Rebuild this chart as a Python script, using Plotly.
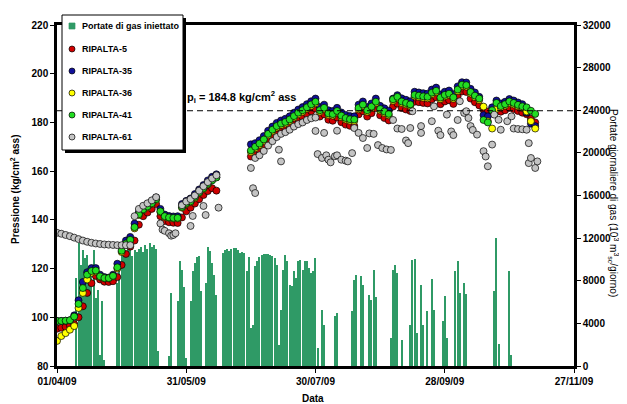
import pandas as pd
import plotly.graph_objects as go

inizio = pd.Timestamp('2009-04-01')

# --- pressioni (kg/cm2 ass), giorni dal 01/04/09 ---
giorni_1 = [0, 2, 4, 6, 8, 10, 12, 14, 16, 18, 20, 22, 24, 26, 28, 30, 32, 34, 36, 38,
            40, 42, 44, 46, 48, 50, 52, 54, 56, 58, 60, 62, 64, 66, 68, 70, 72, 74]
giorni_2 = [90, 92, 94, 96, 98, 100, 102, 104, 106, 108, 110, 112, 114, 116, 118, 120,
            122, 124, 126, 128, 130, 132, 134, 136, 138, 140, 142, 144, 146, 148, 150,
            152, 154, 156, 158, 160, 162, 164, 166, 168, 170, 172, 174, 176, 178, 180,
            182, 184, 186, 188, 190, 192, 194, 196, 198, 200, 202, 204, 206, 208, 210,
            212, 214, 216, 218, 220, 222]

r5_1 = [95.3, 95.7, 96.1, 96.6, 97.2, 100.0, 104.5, 110.0, 114.0, 117.0, 115.5, 114.6,
        114.5, 114.8, 116.5, 121.5, 126.0, 129.0, 131.5, 138.0, 141.5, 143.0, 144.5,
        146.5, 141.5, 139.5, 139.0, 138.8, 138.7, 141.0, 143.5, 145.0, 146.7, 148.5,
        150.2, 151.8, 153.0, 152.0]
r5_2 = [166.0, 167.3, 168.5, 170.2, 172.4, 174.2, 175.7, 176.8, 177.5, 178.5, 179.8,
        181.2, 182.2, 183.4, 184.6, 185.7, 182.4, 183.3, 181.1, 180.7, 182.0, 180.1,
        179.1, 178.6, 178.5, 183.3, 184.6, 182.4, 183.8, 185.8, 182.9, 181.8, 180.8,
        186.5, 187.7, 185.9, 185.3, 184.7, 188.5, 188.3, 188.0, 187.8, 189.5, 190.3,
        187.5, 188.6, 189.1, 187.6, 190.8, 192.7, 192.5, 189.8, 188.3, 187.0, 185.3,
        184.5, 184.2, 185.5, 184.4, 185.0, 186.0, 185.5, 184.7, 184.0, 183.4, 181.5, 180.0]

r35_1 = [98.5, 98.5, 98.6, 98.8, 100.8, 107.0, 114.5, 118.5, 120.2, 120.2, 117.5, 116.5,
         116.3, 117.5, 122.0, 129.0, 131.5, 133.0, 138.5, 143.2, 145.0, 146.3, 147.6,
         149.2, 144.5, 142.2, 141.6, 141.4, 141.5, 146.5, 147.8, 148.8, 150.6, 152.5,
         154.3, 156.2, 157.7, 158.7]
r35_2 = [171.0, 171.5, 172.7, 174.4, 176.6, 178.3, 179.8, 180.8, 181.5, 182.5, 184.0,
         185.3, 186.3, 187.5, 188.7, 189.8, 186.3, 187.3, 185.0, 184.7, 186.0, 184.1,
         183.1, 182.6, 182.5, 187.3, 188.6, 186.3, 187.8, 189.8, 186.8, 185.8, 184.8,
         189.8, 191.2, 189.9, 189.3, 188.7, 192.6, 192.3, 192.0, 191.8, 193.5, 194.3,
         191.5, 192.6, 193.1, 191.6, 194.8, 196.5, 196.4, 193.8, 192.3, 190.5, 183.0,
         182.5, 186.2, 189.0, 187.8, 188.5, 189.6, 189.0, 188.2, 187.5, 184.0, 179.5, 178.5]

r36_1 = [90.3, 92.3, 93.5, 94.9, 96.4, 103.8, 110.0, 115.5, 118.3, 118.8, 116.5, 116.0,
         116.0, 116.8, 120.0, 126.8, 130.0, 131.5, 136.5, 142.0, 144.0, 145.2, 146.5,
         148.2, 143.2, 141.2, 140.8, 140.6, 140.6, 145.0, 146.5, 147.3, 149.0, 151.0,
         152.7, 154.5, 156.5, 157.5]
r36_2 = [167.9, 169.4, 170.7, 172.4, 174.7, 176.4, 177.9, 178.9, 179.6, 180.6, 182.0,
         183.4, 184.4, 185.6, 186.8, 187.9, 184.4, 185.4, 183.1, 182.8, 184.1, 182.2,
         181.2, 180.7, 180.6, 185.4, 186.7, 184.4, 185.9, 187.9, 184.9, 183.9, 182.9,
         188.9, 189.9, 188.0, 187.4, 186.8, 190.7, 190.4, 190.1, 189.9, 191.6, 192.4,
         189.6, 190.7, 191.2, 189.7, 192.9, 194.9, 194.7, 191.9, 190.4, 189.2, 186.5,
         180.5, 177.5, 185.5, 186.1, 186.9, 188.0, 187.4, 186.6, 186.0, 184.5, 180.5, 177.5]

r41_1 = [98.5, 98.5, 98.6, 98.8, 100.3, 105.5, 112.0, 117.5, 119.0, 119.2, 116.8, 116.1,
         116.1, 117.0, 120.5, 127.3, 130.3, 131.8, 137.0, 142.3, 144.3, 145.5, 146.8,
         148.5, 143.5, 141.5, 141.0, 140.8, 140.8, 145.3, 146.8, 147.6, 149.4, 151.3,
         153.0, 154.8, 156.2, 157.4]
r41_2 = [168.5, 170.0, 171.3, 173.0, 175.3, 177.0, 178.5, 179.5, 180.2, 181.2, 182.6,
         184.0, 185.0, 186.2, 187.4, 188.5, 185.0, 186.0, 183.7, 183.4, 184.7, 182.8,
         181.8, 181.3, 181.2, 186.0, 187.3, 185.0, 186.5, 188.5, 185.5, 184.5, 183.5,
         189.5, 190.5, 188.6, 188.0, 187.4, 191.3, 191.0, 190.7, 190.5, 192.2, 193.0,
         190.2, 191.3, 191.8, 190.3, 193.5, 195.5, 195.3, 192.5, 191.0, 189.8, 181.0,
         180.0, 185.0, 188.0, 186.7, 187.5, 188.6, 188.0, 187.2, 186.6, 186.2, 184.8, 183.5]

giorni_61 = [0, 2, 4, 6, 8, 10, 12, 14, 16, 18, 20, 22, 24, 26, 28, 30, 32, 34,
             36, 38, 40, 42, 44, 46, 48, 49, 50, 52, 53, 54, 55, 58, 60, 62, 62, 63,
             64, 66, 68, 68, 69, 70, 72, 74, 75,
             90, 91, 92, 92, 94, 96, 98, 100, 102, 103, 104, 104, 106, 108, 110, 112,
             114, 116, 118, 120, 120, 121, 123, 124, 125, 126, 127, 129, 130, 130, 132,
             134, 135, 137, 138, 140, 142, 144, 145, 147, 149, 151, 153, 155, 156, 158,
             160, 162, 163, 164, 165, 169, 169, 174, 175, 177, 178, 181, 183, 184, 186,
             187, 189, 190, 191, 192, 193, 195, 198, 199, 200, 202, 203, 205, 206, 209,
             211, 212, 214, 216, 218, 219, 219, 220, 222, 223]
r61 = [134.7, 134.3, 133.8, 133.3, 132.7, 132.1, 131.5, 131.0, 130.6, 130.3, 130.1, 129.9,
       129.8, 129.7, 129.6, 129.6, 129.6, 129.6,
       141.5, 144.5, 145.8, 146.8, 148.0, 149.3, 138.5, 136.0, 135.5, 134.5, 133.5, 133.8,
       134.5, 146.0, 147.5, 148.5, 137.5, 141.6, 150.0, 152.0, 153.8, 145.7, 142.0, 155.5,
       157.0, 158.3, 145.0,
       161.3, 153.0, 151.0, 165.4, 166.5, 168.3, 170.5, 172.3, 174.0, 168.8, 175.3, 164.0,
       176.0, 177.0, 178.3, 179.3, 180.0, 181.0, 181.7, 182.0, 176.5, 167.0, 165.4, 175.7,
       166.5, 164.7, 163.6, 166.1, 166.5, 176.6, 164.7, 164.3, 164.0, 167.4, 177.7, 175.7,
       173.6, 169.5, 175.5, 175.3, 170.7, 169.5, 168.9, 168.7, 181.0, 177.5, 177.3, 172.6,
       171.5, 177.7, 184.6, 178.5, 175.7, 180.5, 186.6, 176.6, 174.8, 183.2, 176.3, 174.8,
       181.0, 188.7, 183.9, 184.6, 181.8, 178.5, 176.9, 175.0, 168.2, 166.0, 162.0, 170.9,
       183.2, 181.1, 177.0, 180.5, 182.5, 177.5, 177.3, 177.2, 177.0, 171.5, 163.3, 165.4,
       161.3, 164.0]

# --- portate di gas iniettato (10^3 m3sc/giorno) ---
giorni_q = [9, 10, 11, 12, 13, 14, 15, 16, 17, 18, 19, 20, 21, 22,
            28, 29, 30, 31, 32, 33, 34, 35, 36, 37, 38, 39, 40, 41, 42, 43, 44, 45, 46, 47,
            52, 53, 56, 57, 58, 59, 60, 62, 63, 64, 65, 66, 67, 69, 70, 71, 72, 73, 74,
            77, 78, 79, 80, 81, 82, 83, 84, 85, 86, 87, 88, 89, 90,
            91, 92, 93, 94, 95, 96, 97, 98, 99, 100, 101, 102, 103, 104, 105, 106, 107,
            108, 109, 110, 111, 112, 113, 114, 115, 116, 117, 118, 119, 120, 121,
            123, 124, 129, 130, 137, 138, 139, 141, 142, 145, 146, 147, 148,
            155, 156, 157, 158, 160, 164, 165, 166, 167, 169, 170, 172, 174, 175,
            179, 180, 181, 185, 186, 187, 189, 190, 203, 204, 205, 210, 211]
portate = [8260, 11500, 9500, 10900, 10100, 10450, 9200, 8730, 10900, 6380, 7160, 1060, 6100, 600,
           7800, 9850, 11400, 10700, 10500, 11100, 11000, 10300, 10900, 10700, 11000, 11200,
           10700, 11400, 11000, 11500, 11200, 11400, 11000, 1400,
           940, 6850, 6100, 9850, 9040, 7400, 750, 6100, 8900, 9660, 10200, 10300, 7000,
           7790, 11160, 10800, 9660, 8570, 6690,
           10600, 10900, 11000, 10800, 11000, 11100, 11050, 10900, 10600, 10700, 10600, 8900,
           10200, 3570,
           3880, 9380, 9820, 10200, 10400, 10500, 10500, 10500, 10400, 10300, 10100, 9500,
           2000, 5280, 9040, 10450, 9820, 7630, 7500, 8880, 8260, 9820, 9980, 9040, 9820,
           9820, 9200, 8730, 8880, 10130, 1690,
           5280, 3880, 4660, 4970, 5130, 8100, 8570, 8410, 7630, 6630, 6220, 9040, 6440,
           2630, 9040, 9450, 8730, 2470, 3880, 9980, 10070, 3100, 7570, 3880, 5130, 8190, 5280,
           4250, 6540, 2630, 8940, 9820, 6850, 7790, 6760, 7070, 12010, 2060, 8880, 1060]

p_iniziale = 184.8
date_tick = ['2009-04-01', '2009-05-31', '2009-07-30', '2009-09-28', '2009-11-27']
etich_tick = ['01/04/09', '31/05/09', '30/07/09', '28/09/09', '27/11/09']


def to_date(giorni):
    return inizio + pd.to_timedelta(giorni, unit='D')


# area del grafico in pixel: x 49..566, y 17..358
def px_x(px):
    return (px - 49) / 517


def px_y(py):
    return (358 - py) / 341


FONT = 'Liberation Sans'
serie = [
    ('RIPALTA-5', r5_1 + r5_2, '#d00000'),
    ('RIPALTA-35', r35_1 + r35_2, '#10109a'),
    ('RIPALTA-36', r36_1 + r36_2, '#ffff00'),
    ('RIPALTA-41', r41_1 + r41_2, '#22dd22'),
]

fig = go.Figure()
fig.add_trace(go.Bar(
    x=to_date(giorni_q), y=portate, yaxis='y',
    width=0.5 * 86400000, marker=dict(color='#2f9a66', line=dict(width=0)),
    name='Portate di gas iniettato', showlegend=False))

for nome, valori, col in serie:
    fig.add_trace(go.Scatter(
        x=to_date(giorni_1 + giorni_2), y=valori, yaxis='y2', mode='markers',
        marker=dict(size=7, color=col, line=dict(color='black', width=0.7)),
        name=nome, showlegend=False))

fig.add_trace(go.Scatter(
    x=to_date(giorni_61), y=r61, yaxis='y2', mode='markers',
    marker=dict(size=7, color='#c4c4c4', line=dict(color='black', width=0.7)),
    name='RIPALTA-61', showlegend=False))

asse = dict(showline=True, linecolor='black', linewidth=2.5, ticks='outside',
            ticklen=4, tickwidth=1.2, tickcolor='black', showgrid=False, zeroline=False,
            tickfont=dict(family=FONT, size=10, color='black', weight='bold'))

fig.update_layout(
    width=627, height=404,
    margin=dict(l=49, r=61, t=17, b=46),
    paper_bgcolor='white', plot_bgcolor='white',
    showlegend=False,
    bargap=0,
    xaxis=dict(asse, type='date', range=['2009-04-01', '2009-11-27'], mirror=True,
               tickvals=date_tick, ticktext=etich_tick),
    yaxis=dict(asse, side='right', range=[0, 32000], tickformat='d',
               tickvals=list(range(0, 32001, 4000))),
    yaxis2=dict(asse, side='left', overlaying='y', range=[80, 220],
                tickvals=list(range(80, 221, 20))),
)

# linea della pressione iniziale
fig.add_shape(type='line', xref='paper', x0=0, x1=1, yref='y2', y0=p_iniziale, y1=p_iniziale,
              line=dict(color='black', width=1, dash='6px,4px'))

# legenda disegnata a mano (box con ombra)
fig.add_shape(type='rect', xref='paper', yref='paper', layer='above',
              x0=px_x(57), x1=px_x(178), y0=px_y(145), y1=px_y(10),
              fillcolor='black', line=dict(width=0))
fig.add_shape(type='rect', xref='paper', yref='paper', layer='above',
              x0=px_x(54), x1=px_x(175), y0=px_y(142), y1=px_y(7),
              fillcolor='white', line=dict(color='black', width=1))
voci = ['Portate di gas iniettato'] + [s[0] for s in serie] + ['RIPALTA-61']
colori = ['#2f9a66'] + [s[2] for s in serie] + ['#c4c4c4']
righe = [18, 41, 63, 85, 107, 129]
for i, (voce, col, yy) in enumerate(zip(voci, colori, righe)):
    fig.add_shape(type='rect' if i == 0 else 'circle', xref='paper', yref='paper',
                  layer='above', xsizemode='pixel', ysizemode='pixel',
                  xanchor=px_x(64), yanchor=px_y(yy), x0=-3, x1=3, y0=-3, y1=3,
                  fillcolor=col,
                  line=dict(color='black' if i else col, width=0.7))
    fig.add_annotation(x=px_x(72), y=px_y(yy), xref='paper', yref='paper',
                       xanchor='left', yanchor='middle', showarrow=False, text=voce,
                       font=dict(family=FONT, size=9, color='black', weight='bold'))

fig.add_annotation(x=px_x(177), y=px_y(89), xref='paper', yref='paper', xanchor='left',
                   yanchor='middle', showarrow=False,
                   text='p<sub>i</sub> = 184.8 kg/cm<sup>2</sup> ass',
                   font=dict(family=FONT, size=11, color='black', weight='bold'))
fig.add_annotation(x=px_x(7), y=px_y(181), xref='paper', yref='paper', textangle=-90,
                   xanchor='center', yanchor='middle',
                   showarrow=False, text='Pressione (kg/cm<sup>2</sup> ass)',
                   font=dict(family=FONT, size=10, color='black', weight='bold'))
fig.add_annotation(x=px_x(606), y=px_y(195), xref='paper', yref='paper', textangle=90,
                   xanchor='center', yanchor='middle',
                   showarrow=False,
                   text='Portate giornaliere di gas (10<sup>3</sup> m<sup>3</sup><sub>sc</sub>/giorno)',
                   font=dict(family=FONT, size=10, color='black'))
fig.add_annotation(x=px_x(305), y=px_y(398), xref='paper', yref='paper', showarrow=False,
                   text='Data', font=dict(family=FONT, size=10, color='black', weight='bold'))

fig.write_html('out.html')
